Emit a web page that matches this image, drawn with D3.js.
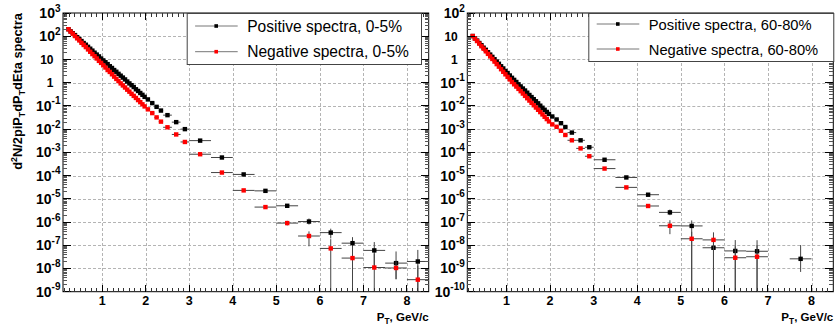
<!DOCTYPE html>
<html>
<head>
<meta charset="utf-8">
<script src="https://cdn.jsdelivr.net/npm/d3@7"></script>
<style>
  body { margin: 0; background: #fff; }
  svg { display: block; }
</style>
</head>
<body>
<svg id="chart" width="836" height="325"></svg>
<script>
// bin centres and half widths (GeV/c)
const ptCenters = [0.225, 0.275, 0.325, 0.375, 0.425, 0.475, 0.525, 0.575, 0.625, 0.675,
  0.725, 0.775, 0.825, 0.875, 0.925, 0.975, 1.025, 1.075, 1.125, 1.175,
  1.225, 1.275, 1.325, 1.375, 1.425, 1.475, 1.525, 1.575, 1.625, 1.675,
  1.725, 1.775, 1.825, 1.875, 1.925, 1.975,
  2.05, 2.15, 2.25, 2.35, 2.5, 2.7, 2.9,
  3.25, 3.75, 4.25, 4.75, 5.25, 5.75, 6.25, 6.75, 7.25, 7.75, 8.25];
const ptHalfWidths = [0.025, 0.025, 0.025, 0.025, 0.025, 0.025, 0.025, 0.025, 0.025, 0.025,
  0.025, 0.025, 0.025, 0.025, 0.025, 0.025, 0.025, 0.025, 0.025, 0.025,
  0.025, 0.025, 0.025, 0.025, 0.025, 0.025, 0.025, 0.025, 0.025, 0.025,
  0.025, 0.025, 0.025, 0.025, 0.025, 0.025,
  0.05, 0.05, 0.05, 0.05, 0.1, 0.1, 0.1,
  0.25, 0.25, 0.25, 0.25, 0.25, 0.25, 0.25, 0.25, 0.25, 0.25, 0.25];

// spectra, 0-5%
const positive0to5 = [200, 162, 135, 112, 91, 76, 62, 51, 43, 35,
  29, 24, 19.5, 16.2, 13.5, 11.0, 9.1, 7.6, 6.3, 5.1,
  4.3, 3.5, 2.95, 2.4, 2.0, 1.66, 1.38, 1.12, 0.93, 0.78,
  0.65, 0.52, 0.44, 0.36, 0.30, 0.245,
  0.19, 0.132, 0.091, 0.063, 0.040, 0.020, 0.010,
  3.2e-3, 6.0e-4, 1.12e-4, 2.2e-5, 5.0e-6, 1.05e-6, 3.5e-7, 1.23e-7, 6.0e-8, 1.7e-8, 2.0e-8];
const negative0to5 = [200, 158, 129, 102, 81, 66, 52, 42, 34, 27,
  21.4, 17.0, 13.8, 11.0, 8.7, 7.1, 5.6, 4.5, 3.5, 2.9,
  2.3, 1.82, 1.45, 1.17, 0.93, 0.76, 0.62, 0.50, 0.41, 0.33,
  0.27, 0.22, 0.178, 0.145, 0.117, 0.095,
  0.071, 0.049, 0.032, 0.021, 0.012, 5.9e-3, 2.8e-3,
  8.3e-4, 1.35e-4, 2.3e-5, 4.4e-6, 9.0e-7, 2.5e-7, 7.3e-8, 2.8e-8, 1.1e-8, 1.05e-8, 3.3e-9];

// spectra, 60-80%
const positive60to80 = [10.2, 8.1, 6.5, 5.1, 4.1, 3.2, 2.6, 2.04, 1.62, 1.29,
  1.02, 0.81, 0.65, 0.51, 0.41, 0.32, 0.26, 0.204, 0.162, 0.132,
  0.107, 0.085, 0.069, 0.056, 0.046, 0.037, 0.0295, 0.024, 0.0195, 0.0158,
  0.0129, 0.0102, 0.0083, 0.0068, 0.0055, 0.0045,
  3.5e-3, 2.6e-3, 1.8e-3, 1.23e-3, 7.1e-4, 3.3e-4, 1.66e-4,
  4.8e-5, 8.3e-6, 1.5e-6, 2.6e-7, 6.8e-8, 7.8e-9, 5.7e-9, 5.5e-9, null, 2.6e-9, null];
const negative60to80 = [10.2, 7.9, 6.2, 4.8, 3.7, 2.9, 2.24, 1.74, 1.35, 1.05,
  0.81, 0.63, 0.49, 0.38, 0.295, 0.229, 0.178, 0.138, 0.107, 0.085,
  0.068, 0.054, 0.043, 0.034, 0.027, 0.0214, 0.017, 0.0135, 0.0107, 0.0085,
  0.0068, 0.0054, 0.0043, 0.0034, 0.0027, 0.00214,
  1.6e-3, 1.26e-3, 8.5e-4, 5.6e-4, 3.3e-4, 1.48e-4, 6.8e-5,
  2.0e-5, 3.1e-6, 4.9e-7, 6.9e-8, 1.9e-8, 1.7e-8, 2.9e-9, 3.2e-9, null, null, null];

// vertical errors of the last 11 bins (3.25 ... 8.25), lower / upper
const positive0to5ErrLo = [0, 0, 0, 1.5e-6, 6e-7, 2.7e-7, 1.53e-7, 7.4e-8, 5.05e-8, 1.36e-8, 2.0e-8];
const positive0to5ErrHi = [0, 0, 0, 1.5e-6, 6e-7, 3.7e-7, 1.68e-7, 1.0e-7, 7.7e-8, 3.7e-8, 4.3e-8];
const negative0to5ErrLo = [0, 0, 0, 5e-7, 1.9e-7, 1.6e-7, 7.3e-8, 2.8e-8, 1.1e-8, 7e-9, 3.3e-9];
const negative0to5ErrHi = [0, 0, 0, 5e-7, 2.3e-7, 1.46e-7, 1.1e-7, 6e-8, 3.3e-8, 1e-8, 1e-8];
const positive60to80ErrLo = [0, 0, 0, 6.3e-8, 6.8e-8, 7.8e-9, 5.7e-9, 5.5e-9, 0, 1.89e-9, 0];
const positive60to80ErrHi = [0, 0, 0, 8.5e-8, 4.9e-8, 7.8e-9, 1.1e-8, 1.1e-8, 0, 7.6e-9, 0];
const negative60to80ErrLo = [0, 0, 0, 3.9e-8, 1.9e-8, 1.7e-8, 2.9e-9, 3.2e-9, 0, 0, 0];
const negative60to80ErrHi = [0, 0, 0, 5.1e-8, 1.9e-8, 1.9e-8, 6e-9, 6.9e-9, 0, 0, 0];

const xTickValues = [1, 2, 3, 4, 5, 6, 7, 8];
const legendLabels0to5 = ['Positive spectra, 0-5%', 'Negative spectra, 0-5%'];
const legendLabels60to80 = ['Positive spectra, 60-80%', 'Negative spectra, 60-80%'];

const FONT = '"Liberation Sans", Arial, Helvetica, sans-serif';
const svg = d3.select('#chart');

function buildSeries(values, errLo, errHi, color) {
  const offset = values.length - errLo.length;
  return values.map((v, i) => ({
    x: ptCenters[i],
    hw: ptHalfWidths[i],
    y: v,
    lo: i >= offset ? errLo[i - offset] : 0,
    hi: i >= offset ? errHi[i - offset] : 0,
    color
  })).filter(d => d.y !== null);
}

// scale a text so that its rendered width matches the width seen in the picture
function fitWidth(textSel, target) {
  const w = textSel.node().getComputedTextLength();
  return w > 0 ? target / w : 1;
}

const panels = [
  {
    id: 'p0', left: 63, right: 428.7, yDomain: [1e-9, 1e3], yTitle: true,
    legend: { x0: 186.7, x1: 421, y0: 13, y1: 64, rows: [26, 51.7], textWidth: 155, labels: legendLabels0to5 },
    series: [
      buildSeries(positive0to5, positive0to5ErrLo, positive0to5ErrHi, '#000'),
      buildSeries(negative0to5, negative0to5ErrLo, negative0to5ErrHi, '#f00')
    ]
  },
  {
    id: 'p1', left: 467.3, right: 833.3, yDomain: [1e-10, 1e2], yTitle: false,
    legend: { x0: 588.3, x1: 833.3, y0: 13, y1: 61, rows: [24, 49], textWidth: 163, labels: legendLabels60to80 },
    series: [
      buildSeries(positive60to80, positive60to80ErrLo, positive60to80ErrHi, '#000'),
      buildSeries(negative60to80, negative60to80ErrLo, negative60to80ErrHi, '#f00')
    ]
  }
];

const frameTop = 13, frameBottom = 291.7;

panels.forEach(p => {
  const x = d3.scaleLinear().domain([0.1, 8.5]).range([p.left, p.right]);
  const y = d3.scaleLog().domain(p.yDomain).range([frameBottom, frameTop]);
  const g = svg.append('g');

  g.append('clipPath').attr('id', 'clip_' + p.id)
    .append('rect')
    .attr('x', p.left).attr('y', frameTop)
    .attr('width', p.right - p.left).attr('height', frameBottom - frameTop);

  // grid
  const eMin = Math.round(Math.log10(p.yDomain[0]));
  const eMax = Math.round(Math.log10(p.yDomain[1]));
  const decades = d3.range(eMin, eMax + 1);
  g.selectAll('.vgrid').data(xTickValues).enter().append('line')
    .attr('x1', d => Math.round(x(d)) + 0.5).attr('x2', d => Math.round(x(d)) + 0.5)
    .attr('y1', frameTop).attr('y2', frameBottom)
    .attr('stroke', '#b4b4b4').attr('stroke-dasharray', '3,2').attr('stroke-width', 1);
  g.selectAll('.hgrid').data(decades.slice(1, -1)).enter().append('line')
    .attr('x1', p.left).attr('x2', p.right)
    .attr('y1', d => Math.round(y(Math.pow(10, d))) + 0.5)
    .attr('y2', d => Math.round(y(Math.pow(10, d))) + 0.5)
    .attr('stroke', '#b4b4b4').attr('stroke-dasharray', '3,2').attr('stroke-width', 1);

  // data
  const dg = g.append('g').attr('clip-path', `url(#clip_${p.id})`);
  p.series.forEach(s => {
    s.forEach(d => {
      const cy = y(d.y);
      dg.append('line')
        .attr('x1', x(d.x - d.hw)).attr('x2', x(d.x + d.hw))
        .attr('y1', cy).attr('y2', cy)
        .attr('stroke', '#444').attr('stroke-width', 1);
      if (d.lo > 0 || d.hi > 0) {
        const yl = d.y - d.lo > 0 ? y(d.y - d.lo) : frameBottom + 10;
        dg.append('line')
          .attr('x1', x(d.x)).attr('x2', x(d.x))
          .attr('y1', y(d.y + d.hi)).attr('y2', yl)
          .attr('stroke', '#444').attr('stroke-width', 1);
      }
    });
    dg.selectAll(null).data(s).enter().append('rect')
      .attr('x', d => x(d.x) - 2.2).attr('y', d => y(d.y) - 2.2)
      .attr('width', 4.4).attr('height', 4.4)
      .attr('fill', d => d.color);
  });

  // frame
  g.append('rect')
    .attr('x', p.left).attr('y', frameTop)
    .attr('width', p.right - p.left).attr('height', frameBottom - frameTop)
    .attr('fill', 'none').attr('stroke', '#000').attr('stroke-width', 1);

  // y ticks both sides
  const yMajor = decades.map(e => Math.pow(10, e));
  const yMinor = [];
  decades.slice(0, -1).forEach(e => {
    for (let k = 2; k <= 9; k++) yMinor.push(k * Math.pow(10, e));
  });
  const tickG = g.append('g').attr('shape-rendering', 'crispEdges');
  [[yMajor, 8, '#000'], [yMinor, 4, '#555']].forEach(([vals, len, col]) => {
    vals.forEach(v => {
      const yy = y(v);
      tickG.append('line').attr('x1', p.left).attr('x2', p.left + len)
        .attr('y1', yy).attr('y2', yy).attr('stroke', col);
      tickG.append('line').attr('x1', p.right - len).attr('x2', p.right)
        .attr('y1', yy).attr('y2', yy).attr('stroke', col);
    });
  });

  // x ticks bottom and top
  const xMinor = d3.range(0.125, 8.5, 0.125).filter(v => Math.abs(v - Math.round(v)) > 1e-6);
  [[xTickValues, 7, '#000'], [xMinor, 3.5, '#333']].forEach(([vals, len, col]) => {
    vals.forEach(v => {
      const xx = x(v);
      tickG.append('line').attr('x1', xx).attr('x2', xx)
        .attr('y1', frameBottom).attr('y2', frameBottom - len).attr('stroke', col);
      tickG.append('line').attr('x1', xx).attr('x2', xx)
        .attr('y1', frameTop).attr('y2', frameTop + len).attr('stroke', col);
    });
  });

  // y labels
  decades.forEach(e => {
    const yy = y(Math.pow(10, e));
    const t = g.append('text')
      .attr('text-anchor', 'end')
      .attr('font-family', FONT).attr('font-weight', 'bold');
    if (e === 0 || e === 1) {
      t.attr('x', p.left - 9.5).attr('y', yy + 4.3)
        .attr('font-size', 12).text(e === 0 ? '1' : '10');
    } else {
      t.attr('x', p.left - 2.5).attr('y', yy + 5)
        .attr('font-size', 14);
      t.append('tspan').text('10');
      t.append('tspan').attr('dy', -6.5).attr('font-size', 10).text(String(e));
    }
  });

  // x labels
  g.selectAll('.xl').data(xTickValues).enter().append('text')
    .attr('x', d => x(d)).attr('y', 305)
    .attr('text-anchor', 'middle')
    .attr('font-family', FONT).attr('font-weight', 'bold').attr('font-size', 12.5)
    .text(d => d);

  // x title
  const xt = g.append('text')
    .attr('text-anchor', 'end')
    .attr('font-family', FONT).attr('font-weight', 'bold').attr('font-size', 12.5);
  xt.append('tspan').text('P');
  xt.append('tspan').attr('dy', 3).attr('font-size', 9).text('T');
  xt.append('tspan').attr('dy', -3).text(', GeV/c');
  const kx = fitWidth(xt, 52);
  xt.attr('transform', `translate(${p.right},321) scale(${kx})`);

  // y title
  if (p.yTitle) {
    const yt = svg.append('text')
      .attr('text-anchor', 'end')
      .attr('font-family', FONT).attr('font-weight', 'bold').attr('font-size', 13);
    yt.append('tspan').text('d');
    yt.append('tspan').attr('dy', -5).attr('font-size', 9).text('2');
    yt.append('tspan').attr('dy', 5).text('N/2piP');
    yt.append('tspan').attr('dy', 3).attr('font-size', 9).text('T');
    yt.append('tspan').attr('dy', -3).text('dP');
    yt.append('tspan').attr('dy', 3).attr('font-size', 9).text('T');
    yt.append('tspan').attr('dy', -3).text('dEta spectra');
    const ky = fitWidth(yt, 157);
    yt.attr('transform', `translate(22,${frameTop}) rotate(-90) scale(${ky})`);
  }

  // legend
  const L = p.legend;
  const lg = g.append('g');
  lg.append('rect')
    .attr('x', L.x0 + 0.5).attr('y', L.y0 + 0.5)
    .attr('width', L.x1 - L.x0).attr('height', L.y1 - L.y0)
    .attr('fill', '#fff').attr('stroke', '#444').attr('stroke-width', 1);
  const labels = L.labels.map((lab, i) => {
    const ry = L.rows[i];
    lg.append('line')
      .attr('x1', L.x0 + 8.4).attr('x2', L.x0 + 51)
      .attr('y1', ry).attr('y2', ry)
      .attr('stroke', '#777').attr('stroke-width', 1);
    lg.append('rect')
      .attr('x', L.x0 + 29.5 - 1.8).attr('y', ry - 1.8)
      .attr('width', 3.6).attr('height', 3.6)
      .attr('fill', p.series[i][0].color);
    return lg.append('text')
      .attr('x', L.x0 + 60.5).attr('y', ry + 5.5)
      .attr('font-family', FONT).attr('font-size', 15)
      .attr('fill', '#000')
      .text(lab);
  });
  const kl = fitWidth(labels[0], L.textWidth);
  labels.forEach(t => t.attr('font-size', 15 * kl));
});
</script>
</body>
</html>
